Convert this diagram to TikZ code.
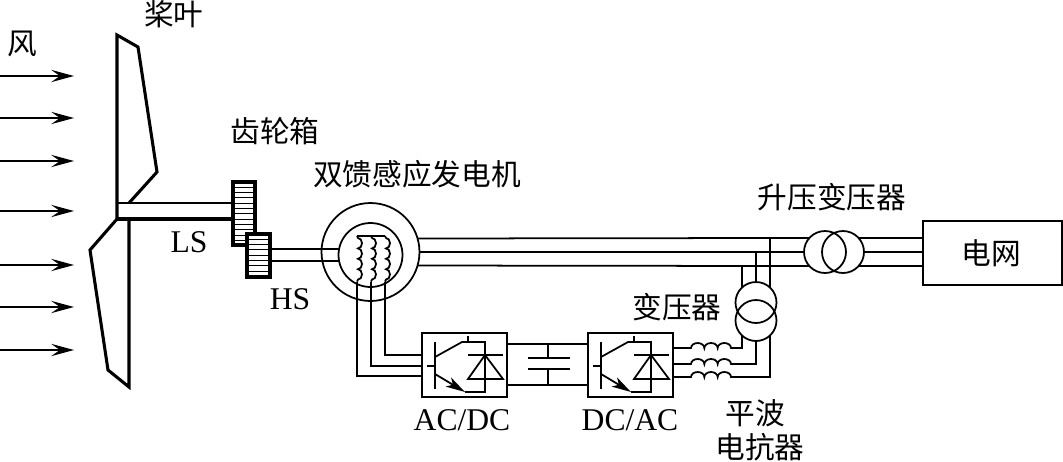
\documentclass[tikz,border=0pt]{standalone}
\usepackage{fontspec}
\setmainfont{Liberation Serif}
\newfontfamily\cjk{Noto Sans CJK SC}
\usetikzlibrary{arrows.meta,shapes}
\tikzstyle{thin line}=[line width=1pt]
\tikzstyle{thick line}=[line width=1.75pt]
\tikzstyle{wind}=[->,line width=0.8pt,>={Stealth[length=13pt,width=7pt,inset=5pt]}]
\tikzstyle{ring}=[circle,draw=black,thin line,inner sep=0pt,outer sep=0pt]
\tikzstyle{rbox}=[rectangle,draw=black,thin line,inner sep=0pt,outer sep=0pt]
\tikzstyle{gearbox}=[rectangle,draw=black,thick line,inner sep=0pt,outer sep=0pt,fill=white]
\tikzstyle{zh}=[font=\cjk\fontsize{16.9}{19}\selectfont,inner sep=0pt]
\tikzstyle{en}=[font=\fontsize{18}{20}\selectfont,inner sep=0pt]

\begin{document}
\begin{tikzpicture}[x=0.02cm,y=-0.02cm,thin line]
\useasboundingbox (0,0) rectangle (1063,461);
% labels
\node[zh] (wlab) at (22,44) {风};
\node[zh] (blab) at (174,14) {桨叶};
\node[zh] (glab) at (275,131) {齿轮箱};
\node[zh] (dlab) at (417,174) {双馈感应发电机};
\node[zh] (slab) at (832,197) {升压变压器};
\node[zh] (tlab) at (677,307) {变压器};
\node[zh] (f1lab) at (755,413) {平波};
\node[zh] (f2lab) at (760,447) {电抗器};
\node[en] (LS) at (189,242) {LS};
\node[en] (HS) at (290,299) {HS};
\node[en] (adlab) at (462,420) {AC/DC};
\node[en] (dalab) at (630,420) {DC/AC};
% wind
\coordinate (W1) at (0,76);\coordinate (E1) at (74,76);\draw[wind](W1)--(E1);
\coordinate (W2) at (0,118);\coordinate (E2) at (74,118);\draw[wind](W2)--(E2);
\coordinate (W3) at (0,161);\coordinate (E3) at (74,161);\draw[wind](W3)--(E3);
\coordinate (W4) at (0,211);\coordinate (E4) at (74,211);\draw[wind](W4)--(E4);
\coordinate (W5) at (0,265);\coordinate (E5) at (74,265);\draw[wind](W5)--(E5);
\coordinate (W6) at (0,307);\coordinate (E6) at (74,307);\draw[wind](W6)--(E6);
\coordinate (W7) at (0,350);\coordinate (E7) at (74,350);\draw[wind](W7)--(E7);
% blades and shaft
\draw[thick line,line join=miter] (129,203)--(157,172)--(138,47)--(117,35)--(117,219)--(90,250)--(108,370)--(129,387)--(129,219);
\node[gearbox,minimum width=0.44cm,minimum height=1.26cm] (GB) at (244,213.5) {};
\draw[line width=1.3pt](117,203)--(GB.west |- 0,203);
\draw[thick line](117,219)--(GB.west |- 0,219);
\foreach \y in {187.3,192.6,...,241}{\draw[line width=0.55pt](GB.west |- 0,\y)--(GB.east |- 0,\y);}
\node[gearbox,minimum width=0.46cm,minimum height=0.86cm] (GS) at (258.5,255.5) {};
\foreach \y in {239.3,244.6,...,273}{\draw[line width=0.55pt](GS.west |- 0,\y)--(GS.east |- 0,\y);}
% generator
\node[ring,minimum size=1.96cm] (G) at (370.5,252) {};
\node[ring,minimum size=1.28cm,fill=white] (R) at (370.5,255) {};
\draw(GS.east |- 0,249)--(R.west |- 0,249);
\draw(GS.east |- 0,261)--(R.west |- 0,261);
\coordinate (C1) at (357,236);\coordinate (C2) at (371,236);\coordinate (C3) at (385,236);
\draw(C1)--(C3);
\draw(C1)--++(1,2) arc (-90:90:4 and 5.2) arc (-90:90:4 and 5.2) arc (-90:90:4 and 5.2) arc (-90:90:4 and 5.2) --++(-1,2) coordinate (B1);
\draw(C2)--++(1,2) arc (-90:90:4 and 5.2) arc (-90:90:4 and 5.2) arc (-90:90:4 and 5.2) arc (-90:90:4 and 5.2) --++(-1,2) coordinate (B2);
\draw(C3)--++(1,2) arc (-90:90:4 and 5.2) arc (-90:90:4 and 5.2) arc (-90:90:4 and 5.2) arc (-90:90:4 and 5.2) --++(-1,2) coordinate (B3);
% converters
\node[rbox,minimum width=1.7cm,minimum height=1.28cm] (AD) at (464.5,365) {};
\node[rbox,minimum width=1.7cm,minimum height=1.28cm] (DA) at (630.5,365) {};
\foreach \c in {AD,DA}{
\begin{scope}[shift={(\c.center)}]
\draw(-29.5,-23)--(-29.5,24);\draw(-37.5,1)--(-29.5,1);
\draw(-29.5,-8)--(-2.5,-23)--(20.5,-23)--(20.5,27)--(0.5,27);
\draw(3.5,-23)--(3.5,-29);
\draw[-{Stealth[length=11pt,width=6pt,inset=3pt]}](-29.5,9)--(0.5,27);
\draw(3.5,-10)--(38.5,-10);\draw(20.5,-10)--(3.5,14)--(38.5,14)--cycle;
\end{scope}}
\draw(B1)--(B1 |- 0,376)--(AD.west |- 0,376);
\draw(B2)--(B2 |- 0,366)--(AD.west |- 0,366);
\draw(B3)--(B3 |- 0,355)--(AD.west |- 0,355);
\coordinate (P1) at (548,358);\coordinate (P2) at (548,369);
\draw(AD.east |- 0,344)--(DA.west |- 0,344);
\draw(AD.east |- 0,385)--(DA.west |- 0,385);
\draw(P1 |- 0,344)--(P1);\draw(P2)--(P2 |- 0,385);
\draw(528,358)--(570,358);\draw(528,369)--(570,369);
% grid and transformers
\node[rbox,minimum width=2.78cm,minimum height=1.28cm] (NET) at (992.5,253) {};
\node[zh] (netlab) at (991,253) {电网};
\node[ring,minimum size=0.84cm] (Ta) at (825,252) {};
\node[ring,minimum size=0.84cm] (Tb) at (843,252) {};
\draw(G.16.5)--(Ta.138);\draw(G.0)--(Ta.180);\draw(G.-16.5)--(Ta.-138);
\draw(Tb.42)--(NET.west |- Tb.42);\draw(Tb.0)--(NET.west |- Tb.0);\draw(Tb.-42)--(NET.west |- Tb.-42);
\node[ring,minimum size=0.82cm] (Tu) at (756,302.5) {};
\node[ring,minimum size=0.82cm] (Tl) at (756,320.5) {};
\draw(Tu.133)--(Tu.133 |- Ta.-138);\draw(Tu.90)--(Tu.90 |- Ta.180);\draw(Tu.47)--(Tu.47 |- Ta.138);
% reactors
\coordinate (L1) at (691,348);\coordinate (L2) at (691,364);\coordinate (L3) at (691,377);
\draw(DA.east |- L1)--(L1) arc (180:360:6.67 and 5) arc (180:360:6.67 and 5) arc (180:360:6.67 and 5) coordinate (K1) -| (Tl.-133);
\draw(DA.east |- L2)--(L2) arc (180:360:6.67 and 5) arc (180:360:6.67 and 5) arc (180:360:6.67 and 5) coordinate (K2) -| (Tl.-90);
\draw(DA.east |- L3)--(L3) arc (180:360:6.67 and 5) arc (180:360:6.67 and 5) arc (180:360:6.67 and 5) coordinate (K3) -| (Tl.-47);
\end{tikzpicture}
\end{document}
